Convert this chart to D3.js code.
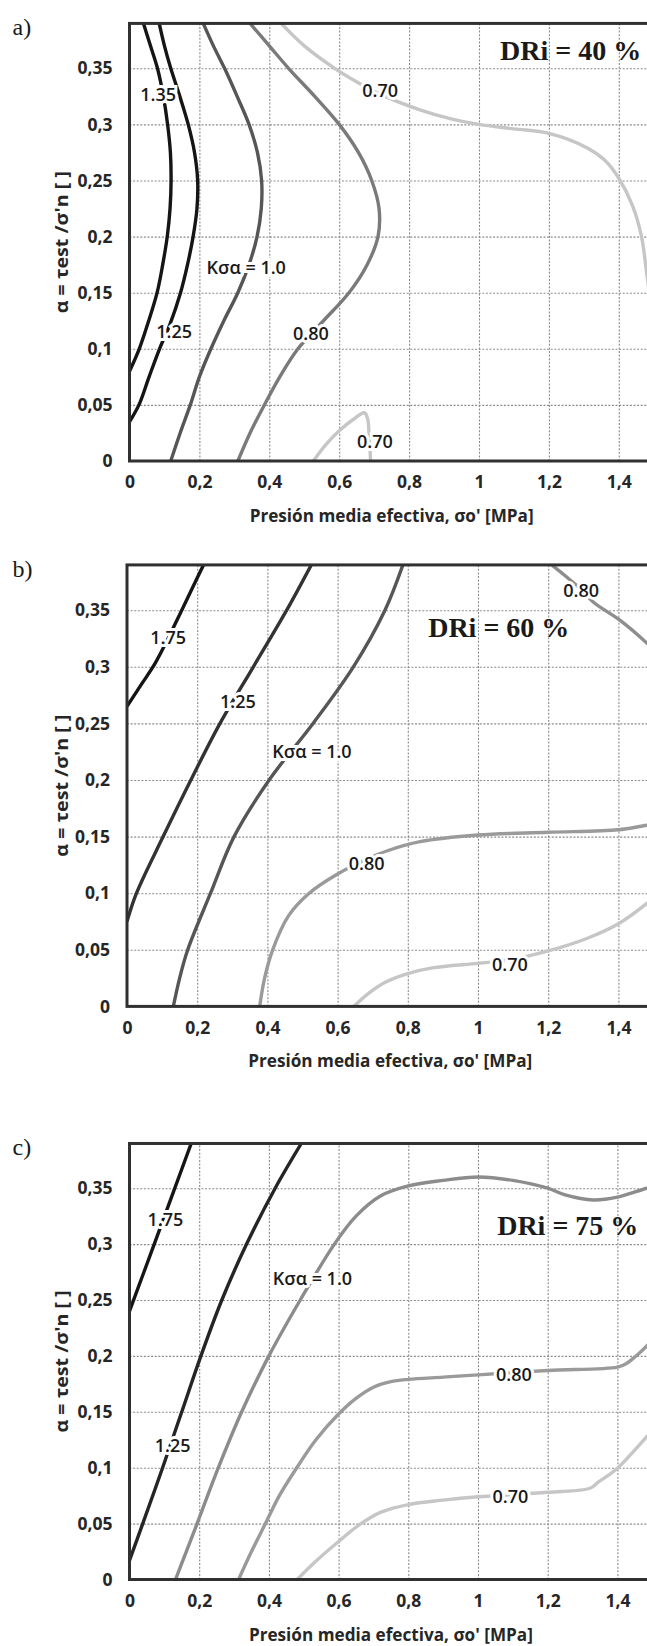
<!DOCTYPE html>
<html>
<head>
<meta charset="utf-8">
<script src="https://cdn.jsdelivr.net/npm/d3@7"></script>
<style>
  body { margin: 0; background: #fff; }
  svg { display: block; }
</style>
</head>
<body>
<svg id="fig" width="647" height="1646"></svg>
<script>
// axis ticks (same on the three panels)
const xTicks = [0, 0.2, 0.4, 0.6, 0.8, 1, 1.2, 1.4];
const xTickLabels = ['0', '0,2', '0,4', '0,6', '0,8', '1', '1,2', '1,4'];
const yTicks = [0, 0.05, 0.1, 0.15, 0.2, 0.25, 0.3, 0.35];
const yTickLabels = ['0', '0,05', '0,1', '0,15', '0,2', '0,25', '0,3', '0,35'];
const panelLetters = ['a)', 'b)', 'c)'];
const densityLabels = ['DRi = 40 %', 'DRi = 60 %', 'DRi = 75 %'];
const xTitle = "Presión media efectiva, σo' [MPa]";
const yTitle = "α = τest /σ'n [ ]";

// contour lines, points are [σo' (MPa), α]
// a) DRi = 40 %
const a_k135 = [[0.040, 0.39], [0.060, 0.37], [0.080, 0.35], [0.097, 0.325], [0.109, 0.30], [0.117, 0.275], [0.119, 0.25], [0.116, 0.225], [0.108, 0.20], [0.095, 0.175], [0.079, 0.15], [0.055, 0.125], [0.028, 0.10], [0, 0.08]];
const a_k125 = [[0.085, 0.39], [0.100, 0.37], [0.118, 0.35], [0.144, 0.325], [0.168, 0.30], [0.186, 0.275], [0.195, 0.25], [0.193, 0.225], [0.182, 0.20], [0.166, 0.175], [0.146, 0.15], [0.116, 0.122], [0.086, 0.10], [0.056, 0.075], [0.027, 0.05], [0, 0.035]];
const a_k100 = [[0.211, 0.39], [0.240, 0.37], [0.272, 0.35], [0.308, 0.325], [0.342, 0.30], [0.366, 0.275], [0.378, 0.25], [0.377, 0.225], [0.365, 0.20], [0.342, 0.175], [0.310, 0.15], [0.270, 0.125], [0.233, 0.10], [0.200, 0.075], [0.174, 0.05], [0.145, 0.025], [0.118, 0]];
const a_k080 = [[0.345, 0.39], [0.400, 0.37], [0.455, 0.35], [0.530, 0.325], [0.600, 0.30], [0.655, 0.275], [0.693, 0.25], [0.714, 0.225], [0.711, 0.20], [0.680, 0.175], [0.628, 0.15], [0.555, 0.125], [0.482, 0.10], [0.430, 0.075], [0.386, 0.05], [0.345, 0.025], [0.310, 0]];
const a_k070u = [[0.434, 0.39], [0.500, 0.37], [0.587, 0.35], [0.650, 0.338], [0.717, 0.327], [0.831, 0.313], [0.920, 0.305], [1.0, 0.30], [1.1, 0.296], [1.2, 0.292], [1.31, 0.279], [1.36, 0.268], [1.40, 0.252], [1.44, 0.227], [1.465, 0.20], [1.48, 0.167], [1.50, 0.12]];
const a_k070l = [[0.526, 0], [0.560, 0.014], [0.600, 0.027], [0.640, 0.037], [0.672, 0.043], [0.681, 0.038], [0.686, 0.02], [0.690, 0]];

// b) DRi = 60 %
const b_k175 = [[0, 0.265], [0.040, 0.284], [0.080, 0.303], [0.117, 0.325], [0.156, 0.35], [0.190, 0.372], [0.218, 0.39]];
const b_k125 = [[0, 0.075], [0.027, 0.10], [0.103, 0.15], [0.182, 0.20], [0.265, 0.25], [0.360, 0.30], [0.455, 0.35], [0.525, 0.39]];
const b_k100 = [[0.132, 0], [0.150, 0.025], [0.173, 0.05], [0.238, 0.10], [0.305, 0.15], [0.405, 0.20], [0.530, 0.25], [0.645, 0.30], [0.735, 0.35], [0.786, 0.39]];
const b_k080l = [[0.378, 0], [0.392, 0.025], [0.415, 0.05], [0.460, 0.08], [0.519, 0.10], [0.600, 0.117], [0.683, 0.13], [0.742, 0.1375], [0.835, 0.1455], [1.0, 0.1514], [1.2, 0.1538], [1.4, 0.156], [1.48, 0.16], [1.55, 0.163]];
const b_k080u = [[1.21, 0.39], [1.25, 0.38], [1.295, 0.368], [1.329, 0.357], [1.405, 0.341], [1.481, 0.321], [1.55, 0.30]];
const b_k070 = [[0.646, 0], [0.690, 0.012], [0.740, 0.022], [0.800, 0.029], [0.870, 0.034], [1.0, 0.038], [1.09, 0.041], [1.2, 0.049], [1.31, 0.06], [1.4, 0.073], [1.481, 0.091], [1.55, 0.11]];

// c) DRi = 75 %
const c_k175 = [[0, 0.24], [0.071, 0.30], [0.130, 0.35], [0.177, 0.39]];
const c_k125 = [[0, 0.017], [0.038, 0.05], [0.095, 0.10], [0.150, 0.15], [0.205, 0.20], [0.265, 0.25], [0.336, 0.30], [0.418, 0.35], [0.493, 0.39]];
const c_k100 = [[0.132, 0], [0.163, 0.025], [0.194, 0.05], [0.255, 0.10], [0.322, 0.15], [0.400, 0.20], [0.490, 0.25], [0.588, 0.30], [0.650, 0.325], [0.720, 0.343], [0.8, 0.352], [0.9, 0.357], [1.0, 0.36], [1.1, 0.357], [1.2, 0.35], [1.25, 0.344], [1.331, 0.3395], [1.4, 0.342], [1.485, 0.35], [1.55, 0.355]];
const c_k080 = [[0.313, 0], [0.350, 0.025], [0.390, 0.05], [0.430, 0.075], [0.480, 0.10], [0.535, 0.125], [0.600, 0.148], [0.650, 0.162], [0.700, 0.172], [0.750, 0.177], [0.8, 0.179], [0.9, 0.181], [1.0, 0.183], [1.2, 0.187], [1.4, 0.19], [1.425, 0.193], [1.45, 0.199], [1.485, 0.209], [1.55, 0.228]];
const c_k070 = [[0.481, 0], [0.530, 0.015], [0.600, 0.034], [0.660, 0.049], [0.720, 0.06], [0.8, 0.067], [0.9, 0.071], [1.0, 0.074], [1.2, 0.078], [1.321, 0.0816], [1.345, 0.087], [1.4, 0.0995], [1.485, 0.128], [1.55, 0.15]];

// inline contour labels: text and [σo', α] of its centre
const a_labelText = ['1.35', '1.25', 'Kσα = 1.0', '0.80', '0.70', '0.70'];
const a_labelAt = [[0.082, 0.327], [0.128, 0.1155], [0.334, 0.173], [0.519, 0.114], [0.717, 0.331], [0.702, 0.018]];
const b_labelText = ['1.75', '1.25', 'Kσα = 1.0', '0.80', '0.80', '0.70'];
const b_labelAt = [[0.117, 0.326], [0.316, 0.27], [0.527, 0.226], [0.683, 0.1265], [1.294, 0.368], [1.091, 0.0375]];
const c_labelText = ['1.75', '1.25', 'Kσα = 1.0', '0.80', '0.70'];
const c_labelAt = [[0.103, 0.3226], [0.124, 0.12], [0.525, 0.27], [1.103, 0.184], [1.093, 0.075]];

// where the "DRi = ..." note starts (left, baseline)
const densityAt = [[1.06, 0.357], [0.858, 0.326], [1.055, 0.308]];

// ---------- layout and styles ----------
const panels = [
  { left: 129.5, bottom: 461, kx: 349.5, ky: 1122,
    curves: [a_k135, a_k125, a_k100, a_k080, a_k070u, a_k070l],
    colors: ['#151515', '#151515', '#565656', '#7a7a7a', '#c6c6c6', '#c6c6c6'],
    labelText: a_labelText, labelAt: a_labelAt },
  { left: 127, bottom: 1006.4, kx: 351, ky: 1132,
    curves: [b_k175, b_k125, b_k100, b_k080l, b_k080u, b_k070],
    colors: ['#151515', '#333333', '#565656', '#9a9a9a', '#8e8e8e', '#c6c6c6'],
    labelText: b_labelText, labelAt: b_labelAt },
  { left: 129.5, bottom: 1579.5, kx: 348.5, ky: 1118,
    curves: [c_k175, c_k125, c_k100, c_k080, c_k070],
    colors: ['#151515', '#252525', '#8c8c8c', '#9a9a9a', '#c6c6c6'],
    labelText: c_labelText, labelAt: c_labelAt }
];

const xMax = 1.5, yMax = 0.39;
const sans = "'Open Sans', 'Noto Sans', sans-serif";
const serif = "'Liberation Serif', 'DejaVu Serif', serif";

const svg = d3.select('#fig');
svg.append('rect').attr('width', 647).attr('height', 1646).attr('fill', '#fff');

panels.forEach((p, i) => {
  const x = d3.scaleLinear().domain([0, xMax]).range([p.left, p.left + xMax * p.kx]);
  const y = d3.scaleLinear().domain([0, yMax]).range([p.bottom, p.bottom - yMax * p.ky]);
  const top = y(yMax), w = x(xMax) - x(0), h = p.bottom - top;

  const g = svg.append('g');

  // dotted grid
  g.append('g')
    .attr('transform', `translate(0,${p.bottom})`)
    .call(d3.axisBottom(x).tickValues(xTicks.slice(1)).tickSize(-h).tickFormat(''))
    .call(s => s.select('.domain').remove())
    .selectAll('line').attr('stroke', '#8a8a8a').attr('stroke-width', 1.1).attr('stroke-dasharray', '2,1.6');
  g.append('g')
    .attr('transform', `translate(${p.left},0)`)
    .call(d3.axisLeft(y).tickValues(yTicks.slice(1)).tickSize(-w).tickFormat(''))
    .call(s => s.select('.domain').remove())
    .selectAll('line').attr('stroke', '#8a8a8a').attr('stroke-width', 1.1).attr('stroke-dasharray', '2,1.6');

  // contour lines
  const clipId = 'clip' + i;
  g.append('clipPath').attr('id', clipId)
    .append('rect').attr('x', p.left).attr('y', top).attr('width', w).attr('height', h);
  const line = d3.line().x(d => x(d[0])).y(d => y(d[1])).curve(d3.curveCatmullRom.alpha(0.5));
  g.append('g').attr('clip-path', `url(#${clipId})`)
    .selectAll('path').data(p.curves).join('path')
    .attr('d', line)
    .attr('fill', 'none')
    .attr('stroke', (d, k) => p.colors[k])
    .attr('stroke-width', 3.4)
    .attr('stroke-linejoin', 'round');

  // inline labels with white box behind
  g.append('g').selectAll('text').data(p.labelText).join('text')
    .attr('x', (d, k) => x(p.labelAt[k][0]))
    .attr('y', (d, k) => y(p.labelAt[k][1]))
    .attr('text-anchor', 'middle')
    .attr('dominant-baseline', 'central')
    .attr('font-family', sans)
    .attr('font-size', 18)
    .attr('font-weight', 600)
    .attr('fill', '#1a1a1a')
    .attr('stroke', '#fff')
    .attr('stroke-width', 6)
    .attr('paint-order', 'stroke')
    .text(d => d);

  // frame
  g.append('rect')
    .attr('x', p.left).attr('y', top).attr('width', w).attr('height', h)
    .attr('fill', 'none').attr('stroke', '#303030').attr('stroke-width', 3);

  // tick labels
  const yAxis = g.append('g')
    .attr('transform', `translate(${p.left},0)`)
    .call(d3.axisLeft(y).tickValues(yTicks).tickSize(0).tickPadding(17)
      .tickFormat((d, k) => yTickLabels[k]));
  const xAxis = g.append('g')
    .attr('transform', `translate(0,${p.bottom})`)
    .call(d3.axisBottom(x).tickValues(xTicks).tickSize(0).tickPadding(15)
      .tickFormat((d, k) => xTickLabels[k]));
  [yAxis, xAxis].forEach(a => {
    a.select('.domain').remove();
    a.selectAll('text').attr('font-family', sans).attr('font-size', 17.5)
      .attr('font-weight', 700).attr('fill', '#262626');
  });

  // axis titles
  g.append('text')
    .attr('x', x(xMax / 2)).attr('y', p.bottom + 54)
    .attr('text-anchor', 'middle').attr('dominant-baseline', 'central')
    .attr('font-family', sans).attr('font-size', 17.5).attr('font-weight', 700)
    .attr('fill', '#262626')
    .attr('textLength', 284).attr('lengthAdjust', 'spacingAndGlyphs')
    .text(xTitle);
  g.append('text')
    .attr('transform', `translate(68,${(top + p.bottom) / 2}) rotate(-90)`)
    .attr('text-anchor', 'middle')
    .attr('font-family', sans).attr('font-size', 17.5).attr('font-weight', 700)
    .attr('fill', '#262626')
    .attr('textLength', 142).attr('lengthAdjust', 'spacingAndGlyphs')
    .text(yTitle);

  // density note
  g.append('text')
    .attr('x', x(densityAt[i][0])).attr('y', y(densityAt[i][1]))
    .attr('font-family', serif).attr('font-size', 28).attr('font-weight', 700)
    .attr('fill', '#1a1a1a')
    .text(densityLabels[i]);

  // panel letter
  g.append('text')
    .attr('x', 12.5).attr('y', top + 12)
    .attr('font-family', serif).attr('font-size', 24)
    .attr('fill', '#1a1a1a')
    .text(panelLetters[i]);
});
</script>
</body>
</html>
